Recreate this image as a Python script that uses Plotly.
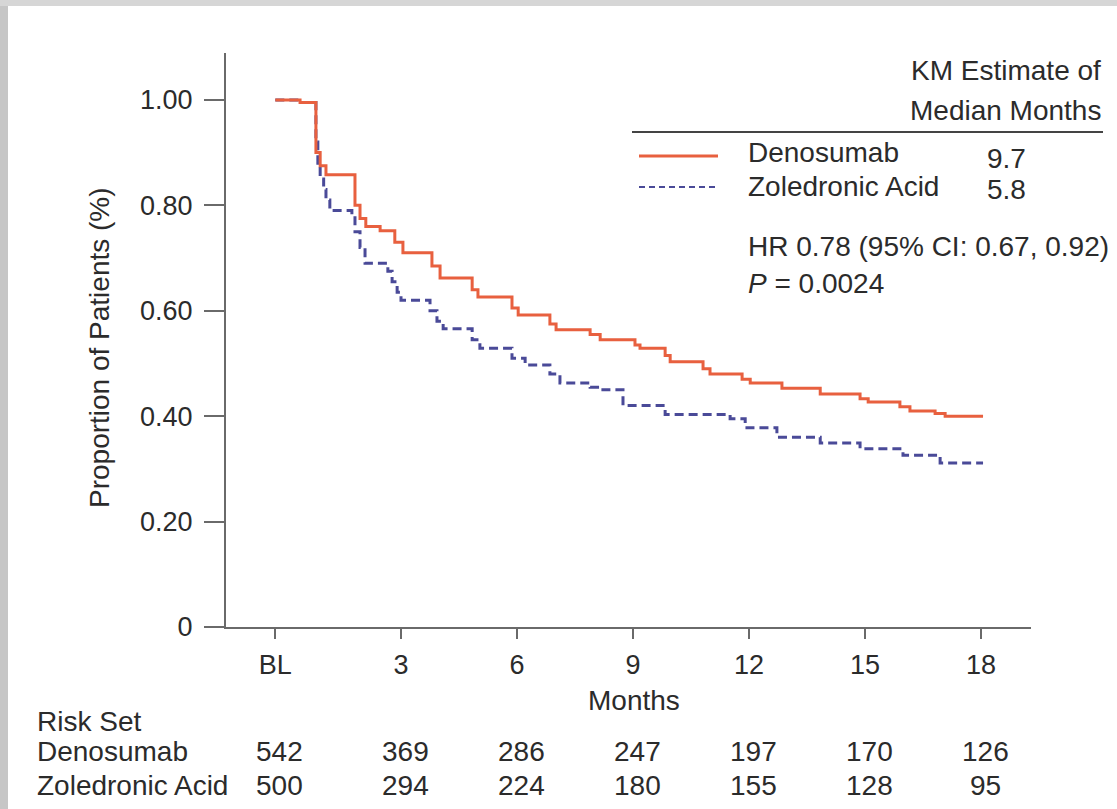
import plotly.graph_objects as go

# ---------------- data ----------------
months_deno = [-0.25, 0.39, 0.80, 0.91, 1.06, 1.81, 1.94, 2.09, 2.46, 2.84, 3.05, 3.80, 4.01, 4.84, 4.99,
               5.87, 6.03, 6.85, 7.01, 7.89, 8.15, 9.05, 9.18, 9.83, 9.96, 10.81, 10.99, 11.82, 12.03,
               12.85, 13.84, 14.87, 15.08, 15.90, 16.16, 16.81, 17.07, 18.05]
surv_deno = [1.0, 0.995, 0.90, 0.875, 0.858, 0.80, 0.775, 0.76, 0.752, 0.73, 0.71, 0.685, 0.662, 0.64, 0.626,
             0.605, 0.592, 0.575, 0.564, 0.555, 0.545, 0.535, 0.529, 0.515, 0.503, 0.49, 0.48, 0.47, 0.463,
             0.453, 0.442, 0.433, 0.427, 0.418, 0.41, 0.405, 0.40, 0.40]

months_zol = [-0.25, 0.39, 0.80, 0.85, 0.91, 1.0, 1.06, 1.16, 1.73, 1.81, 1.94, 2.07, 2.66, 2.77, 2.90, 3.0,
              3.75, 3.93, 4.09, 4.84, 5.04, 5.87, 6.21, 6.85, 7.11, 7.89, 8.15, 8.74, 9.83, 11.51, 11.90,
              12.72, 13.84, 14.87, 15.98, 16.94, 18.05]
surv_zol = [1.0, 0.995, 0.92, 0.88, 0.85, 0.83, 0.81, 0.79, 0.78, 0.75, 0.72, 0.69, 0.675, 0.655, 0.635, 0.62,
            0.60, 0.58, 0.566, 0.545, 0.529, 0.51, 0.497, 0.48, 0.463, 0.455, 0.45, 0.42, 0.403, 0.395, 0.378,
            0.36, 0.349, 0.338, 0.326, 0.311, 0.311]

x_tickvals = [-0.25, 3, 6, 9, 12, 15, 18]
x_ticktext = ["BL", "3", "6", "9", "12", "15", "18"]
y_tickvals = [0, 0.2, 0.4, 0.6, 0.8, 1.0]
y_ticktext = ["0", "0.20", "0.40", "0.60", "0.80", "1.00"]

risk_deno = [542, 369, 286, 247, 197, 170, 126]
risk_zol = [500, 294, 224, 180, 155, 128, 95]

median_deno = "9.7"
median_zol = "5.8"
hr_text = "HR 0.78 (95% CI: 0.67, 0.92)"
p_text = "<i>P</i> = 0.0024"

# ---------------- styling ----------------
W, H = 1117, 809
L, R, T, B = 226, 1031, 53, 627
FONT = "Liberation Sans, Arial, Helvetica, sans-serif"
TXT = "#2b2b2b"
RED = "#e8603f"
BLUE = "#4a4a98"
AX = "#6a6a6a"
FS = 28


def px(xp):
    return (xp - L) / (R - L)


def py(yp):
    return (B - yp) / (B - T)


fig = go.Figure()
fig.add_trace(go.Scatter(x=months_zol, y=surv_zol, mode="lines", line_shape="hv",
                         line=dict(color=BLUE, width=3, dash="9px,5px"), showlegend=False,
                         name="Zoledronic Acid"))
fig.add_trace(go.Scatter(x=months_deno, y=surv_deno, mode="lines", line_shape="hv",
                         line=dict(color=RED, width=3), showlegend=False, name="Denosumab"))

annotations = []


def txt(text, xp, yp, anchor="left", size=FS, xref="paper", xval=None):
    annotations.append(dict(
        text=text, x=(xval if xval is not None else px(xp)), y=py(yp), xref=xref, yref="paper",
        xanchor=anchor, yanchor="middle", showarrow=False,
        font=dict(family=FONT, size=size, color=TXT)))


# axis titles
annotations.append(dict(text="Proportion of Patients (%)", x=px(99), y=py(347), xref="paper", yref="paper",
                        textangle=-90, showarrow=False, xanchor="center", yanchor="middle",
                        font=dict(family=FONT, size=FS, color=TXT)))
txt("Months", 634, 700, anchor="center")

# legend block
txt("KM Estimate of", 1103, 71, anchor="right")
txt("Median Months", 1103, 111, anchor="right")
txt("Denosumab", 746, 152)
txt(median_deno, 985, 158)
txt("Zoledronic Acid", 746, 186)
txt(median_zol, 985, 189)
txt(hr_text, 746, 246)
txt(p_text, 746, 283)

# risk table
txt("Risk Set", 35, 721)
txt("Denosumab", 35, 751)
txt("Zoledronic Acid", 35, 785)
for xv, a, b in zip(x_tickvals, risk_deno, risk_zol):
    off = 0.12
    txt(str(a), 0, 751, anchor="center", xref="x", xval=xv + off)
    txt(str(b), 0, 785, anchor="center", xref="x", xval=xv + off)

shapes = [
    # frame (gray border of the original picture)
    dict(type="rect", xref="paper", yref="paper", x0=px(0), x1=px(8), y0=py(809), y1=py(0),
         fillcolor="#c6c6c6", line=dict(width=0), layer="below"),
    dict(type="rect", xref="paper", yref="paper", x0=px(0), x1=px(1117), y0=py(6), y1=py(0),
         fillcolor="#d6d6d6", line=dict(width=0), layer="below"),
    # legend rule and samples
    dict(type="line", xref="paper", yref="paper", x0=px(632), x1=px(1103), y0=py(132), y1=py(132),
         line=dict(color="#444444", width=2)),
    dict(type="line", xref="paper", yref="paper", x0=px(639), x1=px(718), y0=py(156), y1=py(156),
         line=dict(color=RED, width=3)),
    dict(type="line", xref="paper", yref="paper", x0=px(639), x1=px(718), y0=py(187), y1=py(187),
         line=dict(color=BLUE, width=2, dash="6px,4px")),
]

fig.update_layout(
    width=W, height=H,
    margin=dict(l=L, r=W - R, t=T, b=H - B, pad=0),
    paper_bgcolor="white", plot_bgcolor="white",
    font=dict(family=FONT, size=FS, color=TXT),
    annotations=annotations, shapes=shapes,
    xaxis=dict(range=[-1.525, 19.29], tickmode="array", tickvals=x_tickvals, ticktext=x_ticktext,
               showgrid=False, zeroline=False, showline=True, linecolor=AX, linewidth=2,
               ticks="outside", ticklen=10, tickwidth=2, tickcolor=AX, ticklabelstandoff=3,
               tickfont=dict(family=FONT, size=27, color=TXT), fixedrange=True),
    yaxis=dict(range=[0, 1.089], tickmode="array", tickvals=y_tickvals, ticktext=y_ticktext,
               showgrid=False, zeroline=False, showline=True, linecolor=AX, linewidth=2,
               ticks="outside", ticklen=20, tickwidth=2, tickcolor=AX, ticklabelstandoff=6,
               tickfont=dict(family=FONT, size=27, color=TXT), fixedrange=True),
)

fig.write_html("out.html")
